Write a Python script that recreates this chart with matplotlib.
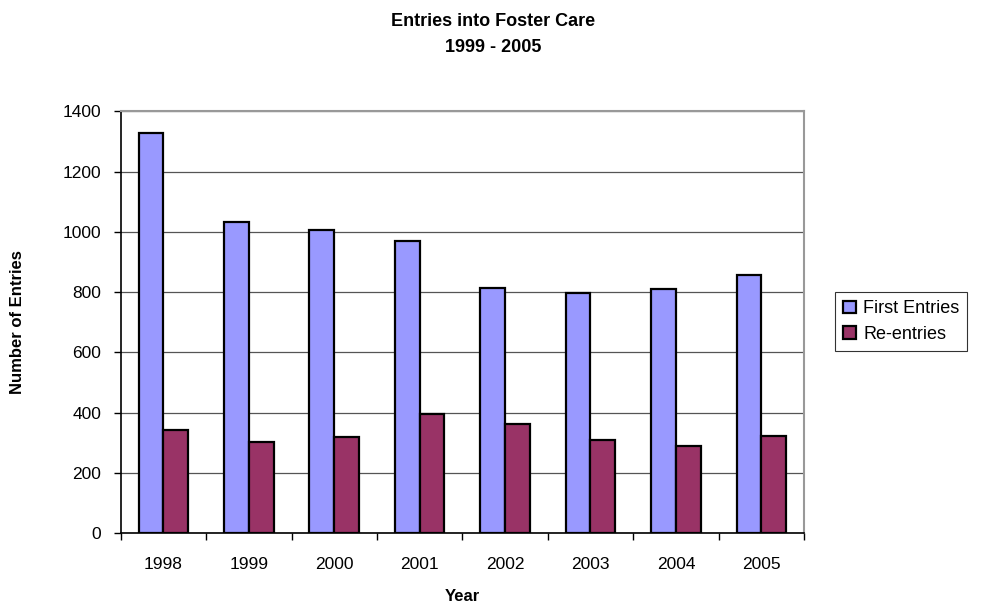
import matplotlib.pyplot as plt
import numpy as np

plt.rcParams['font.family'] = ['Liberation Sans', 'DejaVu Sans']

# data
years = ['1998', '1999', '2000', '2001', '2002', '2003', '2004', '2005']
first_entries = [1328, 1033, 1006, 970, 813, 797, 809, 857]
re_entries = [343, 304, 320, 396, 363, 308, 290, 324]

fig = plt.figure(figsize=(9.87, 6.05), dpi=100)
ax = fig.add_axes([0.1223, 0.1185, 0.8146 - 0.1223, 0.816 - 0.1185])

x = np.arange(len(years))
w = 0.29
ax.bar(x - w / 2, first_entries, width=w, color='#9999FF', edgecolor='black',
       linewidth=1.6, label='First Entries', zorder=3)
ax.bar(x + w / 2, re_entries, width=w, color='#993366', edgecolor='black',
       linewidth=1.6, label='Re-entries', zorder=3)

ax.set_xlim(-0.5, len(years) - 0.5)
ax.set_ylim(0, 1400)
ax.set_yticks(range(0, 1401, 200))
ax.yaxis.grid(True, color='#555555', linewidth=0.9, zorder=0)

# ticks at category boundaries, labels at centres
ax.set_xticks(np.arange(-0.5, len(years), 1.0))
ax.set_xticklabels([])
ax.set_xticks(x, minor=True)
ax.set_xticklabels(years, minor=True)
ax.tick_params(axis='x', which='major', length=5, width=1, direction='out')
ax.tick_params(axis='x', which='minor', length=0, pad=17, labelsize=12.5)
ax.tick_params(axis='y', length=5, width=1, direction='out', pad=9, labelsize=12.5)

ax.spines['left'].set_color('black')
ax.spines['bottom'].set_color('black')
ax.spines['left'].set_linewidth(1.2)
ax.spines['bottom'].set_linewidth(1.2)
ax.spines['top'].set_color('#999999')
ax.spines['right'].set_color('#999999')
ax.spines['top'].set_linewidth(1.5)
ax.spines['right'].set_linewidth(1.5)

ax.set_xlabel('Year', fontsize=12, fontweight='bold', labelpad=12)
ax.set_ylabel('Number of Entries', fontsize=12, fontweight='bold', labelpad=27)

fig.text(0.5, 1 - 21 / 605, 'Entries into Foster Care', ha='center', va='center',
         fontsize=13, fontweight='bold')
fig.text(0.5, 1 - 48 / 605, '1999 - 2005', ha='center', va='center',
         fontsize=13, fontweight='bold')

leg = fig.legend(loc='center left', bbox_to_anchor=(826 / 987, 1 - 321.5 / 605),
                 fontsize=13, frameon=True, fancybox=False, handlelength=0.7,
                 handleheight=0.7, handletextpad=0.4, borderpad=0.45,
                 labelspacing=0.45)
leg.get_frame().set_edgecolor('black')
leg.get_frame().set_linewidth(0.8)

fig.savefig('out.png', dpi=100)
